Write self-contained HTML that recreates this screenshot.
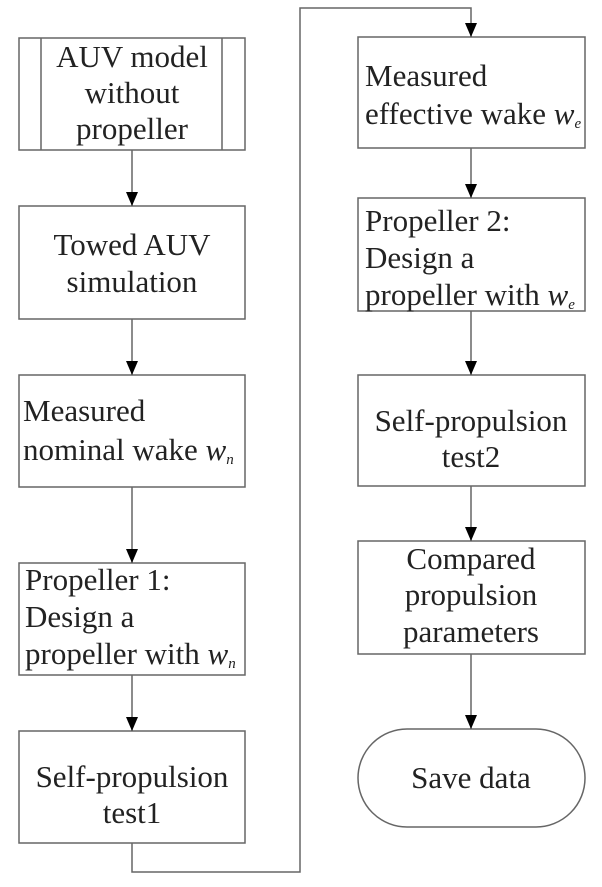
<!DOCTYPE html>
<html><head><style>body{margin:0;background:#fff}</style></head><body>
<svg width="602" height="882" viewBox="0 0 602 882" xmlns="http://www.w3.org/2000/svg" font-family="Liberation Serif, serif" font-size="31" fill="#222">
<defs><marker id="a" markerWidth="14" markerHeight="12" refX="14" refY="6" orient="auto" markerUnits="userSpaceOnUse"><path d="M0,0 L14,6 L0,12 Z" fill="#000"/></marker></defs>
<g fill="none" stroke="#666" stroke-width="1.5">
<rect x="19" y="38" width="226" height="112"/><line x1="41" y1="38" x2="41" y2="150"/><line x1="222" y1="38" x2="222" y2="150"/>
<rect x="19" y="206" width="226" height="113"/>
<rect x="19" y="375" width="226" height="112"/>
<rect x="19" y="563" width="226" height="112"/>
<rect x="19" y="731" width="226" height="112"/>
<rect x="358" y="37" width="227" height="111"/>
<rect x="358" y="198" width="227" height="113"/>
<rect x="358" y="375" width="227" height="111"/>
<rect x="358" y="541" width="227" height="113"/>
<rect x="358" y="729" width="227" height="98" rx="49"/>
<line x1="132" y1="150" x2="132" y2="206" marker-end="url(#a)"/>
<line x1="132" y1="319" x2="132" y2="375" marker-end="url(#a)"/>
<line x1="132" y1="487" x2="132" y2="563" marker-end="url(#a)"/>
<line x1="132" y1="675" x2="132" y2="731" marker-end="url(#a)"/>
<polyline points="132,843 132,872 300,872 300,8 471,8 471,37" marker-end="url(#a)"/>
<line x1="471" y1="148" x2="471" y2="198" marker-end="url(#a)"/>
<line x1="471" y1="311" x2="471" y2="375" marker-end="url(#a)"/>
<line x1="471" y1="486" x2="471" y2="541" marker-end="url(#a)"/>
<line x1="471" y1="654" x2="471" y2="729" marker-end="url(#a)"/>
</g>
<g text-anchor="middle">
<text x="132" y="67">AUV model</text><text x="132" y="103">without</text><text x="132" y="139">propeller</text>
<text x="132" y="255">Towed AUV</text><text x="132" y="292">simulation</text>
<text x="132" y="787">Self-propulsion</text><text x="132" y="823">test1</text>
<text x="471" y="431">Self-propulsion</text><text x="471" y="467">test2</text>
<text x="471" y="569">Compared</text><text x="471" y="605">propulsion</text><text x="471" y="642">parameters</text>
<text x="471" y="788">Save data</text>
</g>
<text x="23" y="421">Measured</text>
<text x="23" y="460">nominal wake <tspan font-style="italic">w</tspan><tspan font-size="15" font-style="italic" dy="4">n</tspan></text>
<text x="25" y="590">Propeller 1:</text><text x="25" y="627">Design a</text>
<text x="25" y="664">propeller with <tspan font-style="italic">w</tspan><tspan font-size="15" font-style="italic" dy="4">n</tspan></text>
<text x="365" y="86">Measured</text>
<text x="365" y="124">effective wake <tspan font-style="italic">w</tspan><tspan font-size="15" font-style="italic" dy="4">e</tspan></text>
<text x="365" y="231">Propeller 2:</text><text x="365" y="268">Design a</text>
<text x="365" y="305">propeller with <tspan font-style="italic">w</tspan><tspan font-size="15" font-style="italic" dy="4">e</tspan></text>
</svg>
</body></html>
